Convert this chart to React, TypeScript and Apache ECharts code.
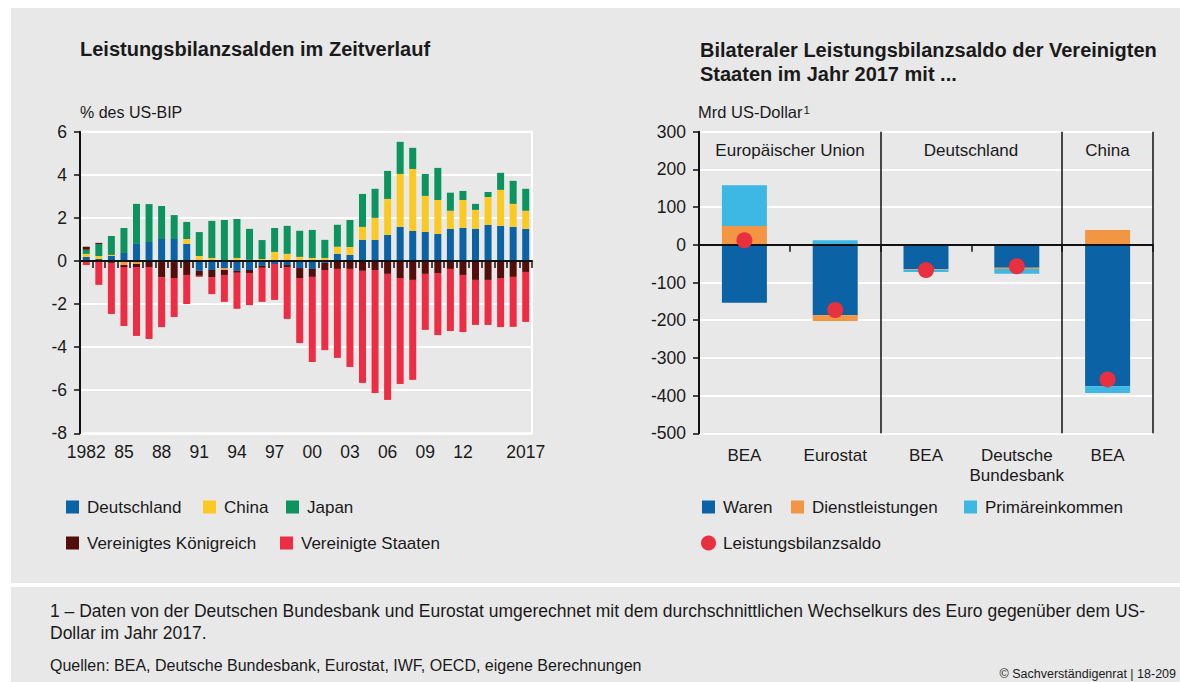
import React, { useEffect, useRef } from "react";
import * as echarts from "echarts";

// ---------- Left chart data (% des US-BIP) ----------
const years = [
  "1982", "1983", "1984", "1985", "1986", "1987", "1988", "1989", "1990", "1991",
  "1992", "1993", "1994", "1995", "1996", "1997", "1998", "1999", "2000", "2001",
  "2002", "2003", "2004", "2005", "2006", "2007", "2008", "2009", "2010", "2011",
  "2012", "2013", "2014", "2015", "2016", "2017",
];
const deutschland = [
  0.19, 0.09, 0.23, 0.37, 0.79, 0.88, 1.02, 1.02, 0.79, -0.46,
  -0.42, -0.33, -0.46, -0.42, -0.23, -0.14, -0.19, -0.33, -0.37, -0.09,
  0.33, 0.28, 0.98, 0.98, 1.21, 1.58, 1.39, 1.35, 1.25, 1.49,
  1.53, 1.49, 1.67, 1.63, 1.58, 1.49,
];
const china = [
  0.14, 0.14, 0.05, -0.19, -0.14, 0, -0.05, -0.05, 0.23, 0.23,
  0.14, -0.09, 0.14, 0.05, 0.09, 0.42, 0.33, 0.19, 0.14, 0.14,
  0.33, 0.37, 0.6, 1.02, 1.67, 2.46, 2.88, 1.67, 1.58, 0.84,
  1.3, 0.88, 1.3, 1.67, 1.07, 0.84,
];
const japan = [
  0.19, 0.56, 0.88, 1.16, 1.86, 1.76, 1.53, 1.11, 0.79, 1.11,
  1.72, 1.9, 1.81, 1.44, 0.88, 1.11, 1.3, 1.21, 1.3, 0.84,
  1.02, 1.25, 1.53, 1.35, 1.3, 1.49, 0.98, 1.02, 1.49, 0.84,
  0.42, 0.28, 0.23, 0.79, 1.07, 1.02,
];
const vereinigtesKoenigreich = [
  0.14, 0.05, -0.09, -0.09, -0.14, -0.28, -0.7, -0.74, -0.65, -0.23,
  -0.33, -0.23, -0.09, -0.14, -0.09, 0, -0.09, -0.46, -0.37, -0.33,
  -0.37, -0.37, -0.46, -0.42, -0.6, -0.79, -0.88, -0.6, -0.56, -0.37,
  -0.65, -0.88, -0.88, -0.79, -0.74, -0.51,
];
const vereinigteStaaten = [
  -0.19, -1.11, -2.37, -2.74, -3.2, -3.34, -2.32, -1.81, -1.35, -0.05,
  -0.79, -1.25, -1.67, -1.49, -1.58, -1.67, -2.41, -3.02, -3.95, -3.72,
  -4.13, -4.55, -5.2, -5.71, -5.85, -4.92, -4.64, -2.6, -2.88, -2.88,
  -2.65, -2.09, -2.09, -2.28, -2.32, -2.32,
];
const leftTicks = [-8, -6, -4, -2, 0, 2, 4, 6];

// ---------- Right chart data (Mrd US-Dollar) ----------
const bilateralKeys = ["EU-BEA", "EU-Eurostat", "DE-BEA", "DE-Bundesbank", "CN-BEA"];
const bilateralLabels = ["BEA", "Eurostat", "BEA", "Deutsche\nBundesbank", "BEA"];
const groupLabels = ["Europäischer Union", "Deutschland", "China"];
const waren = [-154, -187, -64, -61, -375];
const dienstleistungen = [50, -15, -2, -3, 39];
const primaereinkommen = [108, 12, -6, -13, -18];
const leistungsbilanzsaldo = [12, -173, -67, -57, -357];
const rightTicks = [-500, -400, -300, -200, -100, 0, 100, 200, 300];

// ---------- Styles ----------
const FONT = "Liberation Sans";
const TXT = "#1a1a1a";
const C_BLUE = "#0B62A4";
const C_YELLOW = "#FACA22";
const C_GREEN = "#0C945F";
const C_BROWN = "#530D0B";
const C_RED = "#EE2D45";
const C_ORANGE = "#F39643";
const C_CYAN = "#3DB8E5";
const C_DOT = "#E9303F";
const BG = "#E8E8E8";

function legendSquare(x: number, y: number, color: string, label: string) {
  return [
    { type: "rect", shape: { x, y: y - 6.5, width: 13, height: 13 }, style: { fill: color } },
    {
      type: "text", x: x + 21, y,
      style: { text: label, fill: TXT, fontSize: 17, fontFamily: FONT, textVerticalAlign: "middle" },
    },
  ];
}
function legendDot(x: number, y: number, color: string, label: string) {
  return [
    { type: "circle", shape: { cx: x + 6.5, cy: y, r: 7.5 }, style: { fill: color } },
    {
      type: "text", x: x + 21, y,
      style: { text: label, fill: TXT, fontSize: 17, fontFamily: FONT, textVerticalAlign: "middle" },
    },
  ];
}
function txt(x: number, y: number, text: string, size: number, opts: any = {}) {
  return {
    type: "text", x, y,
    style: {
      text, fill: TXT, fontSize: size, fontFamily: FONT, textVerticalAlign: "middle",
      ...opts,
    },
  };
}

export default function App() {
  const ref = useRef<HTMLDivElement>(null);

  useEffect(() => {
    const chart = echarts.init(ref.current!, null, { renderer: "svg" });

    const zeroLine = {
      silent: true,
      symbol: ["none", "none"],
      label: { show: false },
      lineStyle: { color: "#111", width: 2, type: "solid" },
      data: [{ yAxis: 0 }],
    };

    const leftBar = (name: string, data: any[], color: string, extra: any = {}) => ({
      name, type: "bar", stack: "left", xAxisIndex: 0, yAxisIndex: 0,
      barWidth: 7, itemStyle: { color }, data, ...extra,
    });
    const rightBar = (name: string, data: number[], color: string, extra: any = {}) => ({
      name, type: "bar", stack: "right", xAxisIndex: 1, yAxisIndex: 1,
      barWidth: 45, itemStyle: { color }, data, ...extra,
    });

    const option: any = {
      animation: false,
      textStyle: { fontFamily: FONT },
      grid: [
        { left: 80, top: 131.7, width: 452, height: 301.6, show: true, borderColor: "#fff", borderWidth: 2, backgroundColor: "transparent" },
        { left: 699, top: 131.7, width: 454, height: 301.6 },
      ],
      xAxis: [
        {
          type: "category", gridIndex: 0, data: years,
          axisLine: { lineStyle: { color: "#111", width: 2 } },
          axisTick: { show: true, interval: 0, length: 7, lineStyle: { color: "#111", width: 1.5 } },
          axisLabel: {
            color: TXT, fontSize: 17.5, fontFamily: FONT, margin: 10,
            interval: (i: number) => (i % 3 === 0 && i <= 30) || i === years.length - 1,
            formatter: (v: string, i: number) => (i === 0 || i === years.length - 1 ? v : v.slice(2)),
          },
          splitLine: { show: false },
        },
        {
          type: "category", gridIndex: 1, data: bilateralKeys,
          axisLine: { lineStyle: { color: "#111", width: 2 } },
          axisTick: { show: true, interval: 0, length: 7, lineStyle: { color: "#111", width: 1.5 } },
          axisLabel: {
            color: TXT, fontSize: 17, fontFamily: FONT, margin: 12, lineHeight: 20, interval: 0,
            formatter: (_v: string, i: number) => bilateralLabels[i],
          },
          splitLine: {
            show: true,
            interval: (i: number) => i === 2 || i === 4,
            lineStyle: { color: "#111", width: 1.5 },
          },
        },
      ],
      yAxis: [
        {
          type: "value", gridIndex: 0, min: leftTicks[0], max: leftTicks[leftTicks.length - 1], interval: 2,
          axisLine: { show: true, lineStyle: { color: "#111", width: 2 } },
          axisTick: { show: true, length: 6, lineStyle: { color: "#111", width: 1.5 } },
          axisLabel: { color: TXT, fontSize: 17.5, fontFamily: FONT, margin: 13 },
          splitLine: { show: true, lineStyle: { color: "#fff", width: 2 } },
        },
        {
          type: "value", gridIndex: 1, min: rightTicks[0], max: rightTicks[rightTicks.length - 1], interval: 100,
          axisLine: { show: true, lineStyle: { color: "#111", width: 2 } },
          axisTick: { show: true, length: 6, lineStyle: { color: "#111", width: 1.5 } },
          axisLabel: { color: TXT, fontSize: 17.5, fontFamily: FONT, margin: 13 },
          splitLine: { show: true, lineStyle: { color: "#fff", width: 2 } },
        },
      ],
      series: [
        leftBar("Deutschland", deutschland, C_BLUE),
        leftBar("China", china.map((v) => (v < 0 ? { value: v, itemStyle: { color: C_ORANGE } } : v)), C_YELLOW),
        leftBar("Japan", japan, C_GREEN),
        leftBar("Vereinigtes Königreich", vereinigtesKoenigreich, C_BROWN),
        leftBar("Vereinigte Staaten", vereinigteStaaten, C_RED, { markLine: zeroLine }),
        rightBar("Waren", waren, C_BLUE),
        rightBar("Dienstleistungen", dienstleistungen, C_ORANGE),
        rightBar("Primäreinkommen", primaereinkommen, C_CYAN, { markLine: zeroLine }),
        {
          name: "Leistungsbilanzsaldo", type: "scatter", xAxisIndex: 1, yAxisIndex: 1,
          symbol: "circle", symbolSize: 16, itemStyle: { color: C_DOT, opacity: 1 }, z: 5,
          data: leistungsbilanzsaldo,
        },
      ],
      graphic: [
        txt(80, 49, "Leistungsbilanzsalden im Zeitverlauf", 20, { fontWeight: "bold" }),
        txt(700, 50, "Bilateraler Leistungsbilanzsaldo der Vereinigten", 20, { fontWeight: "bold" }),
        txt(700, 74, "Staaten im Jahr 2017 mit ...", 20, { fontWeight: "bold" }),
        txt(80, 112, "% des US-BIP", 16),
        {
          type: "text", x: 698, y: 112,
          style: {
            text: "{a|Mrd US-Dollar}{s|1}",
            textVerticalAlign: "middle",
            rich: {
              a: { fontSize: 16.5, fontFamily: FONT, fill: TXT, color: TXT, verticalAlign: "bottom" },
              s: { fontSize: 11.5, fontFamily: FONT, fill: TXT, color: TXT, verticalAlign: "top", padding: [0, 0, 0, 1] },
            },
          },
        },
        txt(790, 150, groupLabels[0], 17, { textAlign: "center" }),
        txt(971, 150, groupLabels[1], 17, { textAlign: "center" }),
        txt(1107.5, 150, groupLabels[2], 17, { textAlign: "center" }),
        ...legendSquare(66, 507, C_BLUE, "Deutschland"),
        ...legendSquare(203, 507, C_YELLOW, "China"),
        ...legendSquare(286, 507, C_GREEN, "Japan"),
        ...legendSquare(66, 543, C_BROWN, "Vereinigtes Königreich"),
        ...legendSquare(280, 543, C_RED, "Vereinigte Staaten"),
        ...legendSquare(702, 507, C_BLUE, "Waren"),
        ...legendSquare(791, 507, C_ORANGE, "Dienstleistungen"),
        ...legendSquare(964, 507, C_CYAN, "Primäreinkommen"),
        ...legendDot(702, 543, C_DOT, "Leistungsbilanzsaldo"),
        txt(50, 611, "1 – Daten von der Deutschen Bundesbank und Eurostat umgerechnet mit dem durchschnittlichen Wechselkurs des Euro gegenüber dem US-", 17.5),
        txt(50, 633, "Dollar im Jahr 2017.", 17.5),
        txt(50, 665, "Quellen: BEA, Deutsche Bundesbank, Eurostat, IWF, OECD, eigene Berechnungen", 16),
        txt(1176, 674, "© Sachverständigenrat | 18-209", 12.5, { textAlign: "right" }),
      ],
    };

    chart.setOption(option);
    return () => chart.dispose();
  }, []);

  return (
    <div style={{ position: "absolute", left: 0, top: 0, width: 1180, height: 682, background: "#fff", overflow: "hidden" }}>
      <div style={{ position: "absolute", left: 11, top: 8, width: 1169, height: 575, background: BG }} />
      <div style={{ position: "absolute", left: 11, top: 587, width: 1169, height: 95, background: BG }} />
      <div ref={ref} style={{ position: "absolute", left: 0, top: 0, width: 1180, height: 682 }} />
    </div>
  );
}
